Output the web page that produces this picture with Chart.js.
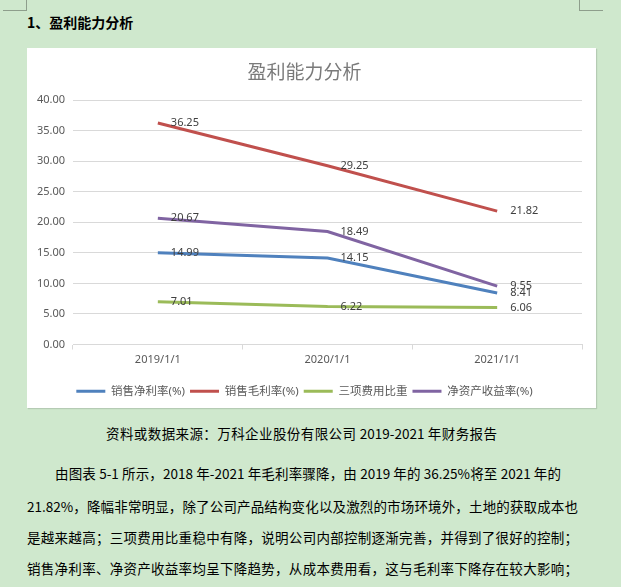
<!DOCTYPE html>
<html><head><meta charset="utf-8">
<script src="https://cdn.jsdelivr.net/npm/chart.js@4"></script>
<style>
html,body{margin:0;padding:0;}
body{width:621px;height:587px;background:#cfe8cd;position:relative;overflow:hidden;font-family:"Noto Sans CJK SC","Noto Sans",sans-serif;color:#000;}
.mark{position:absolute;background:#8e9e8c;}
#box{position:absolute;left:27px;top:48px;width:569px;height:360px;background:#fff;box-shadow:1px 1px 1px rgba(0,0,0,0.12);}
#heading{position:absolute;left:27px;top:12px;font-size:14px;font-weight:bold;line-height:20px;white-space:nowrap;}
.txt{position:absolute;font-size:13.5px;line-height:20px;white-space:nowrap;text-align:justify;text-align-last:justify;}
</style></head>
<body>
<div class="mark" style="left:26px;top:0;width:1px;height:11px;"></div>
<div class="mark" style="left:3px;top:10px;width:24px;height:1px;"></div>
<div class="mark" style="left:579px;top:0;width:1px;height:11px;"></div>
<div class="mark" style="left:579px;top:10px;width:24px;height:1px;"></div>
<div id="heading">1、盈利能力分析</div>
<div id="box"><canvas id="c" width="569" height="360"></canvas></div>
<div class="txt" style="left:106px;top:423px;width:391px;">资料或数据来源：万科企业股份有限公司 2019-2021 年财务报告</div>
<div class="txt" style="left:55px;top:463px;width:506px;">由图表 5-1 所示，2018 年-2021 年毛利率骤降，由 2019 年的 36.25%将至 2021 年的</div>
<div class="txt" style="left:27px;top:496px;width:551px;">21.82%，降幅非常明显，除了公司产品结构变化以及激烈的市场环境外，土地的获取成本也</div>
<div class="txt" style="left:27px;top:527px;width:551px;">是越来越高；三项费用比重稳中有降，说明公司内部控制逐渐完善，并得到了很好的控制；</div>
<div class="txt" style="left:27px;top:558px;width:551px;">销售净利率、净资产收益率均呈下降趋势，从成本费用看，这与毛利率下降存在较大影响；</div>
<script>
const categories = ['2019/1/1', '2020/1/1', '2021/1/1'];
const netMargin = [14.99, 14.15, 8.41];
const grossMargin = [36.25, 29.25, 21.82];
const expenseRatio = [7.01, 6.22, 6.06];
const roe = [20.67, 18.49, 9.55];
const seriesNames = ['销售净利率(%)', '销售毛利率(%)', '三项费用比重', '净资产收益率(%)'];
const seriesColors = ['#4f81bd', '#c0504d', '#9bbb59', '#8064a2'];
const yMin = 0, yMax = 40, yStep = 5;
const chartTitle = '盈利能力分析';

Chart.defaults.font.family = '"Noto Sans", "Noto Sans CJK SC", sans-serif';

const seriesValues = [netMargin, grossMargin, expenseRatio, roe];
const datasets = seriesValues.map((vals, i) => ({
  label: seriesNames[i],
  data: vals,
  borderColor: seriesColors[i],
  backgroundColor: seriesColors[i],
  borderWidth: 3,
  pointRadius: 0,
  tension: 0,
  fill: false
}));

const valueLabels = {
  id: 'valueLabels',
  afterDatasetsDraw(chart) {
    const ctx = chart.ctx;
    ctx.save();
    ctx.font = '11px "Noto Sans", sans-serif';
    ctx.fillStyle = '#404040';
    ctx.textBaseline = 'middle';
    ctx.textAlign = 'left';
    chart.data.datasets.forEach((ds, i) => {
      chart.getDatasetMeta(i).data.forEach((pt, j) => {
        ctx.fillText(ds.data[j].toFixed(2), pt.x + 13, pt.y);
      });
    });
    ctx.restore();
  }
};

new Chart(document.getElementById('c'), {
  type: 'line',
  data: { labels: categories, datasets },
  options: {
    responsive: false,
    animation: false,
    layout: { padding: { left: 0, right: 14, top: 0, bottom: 1 } },
    plugins: {
      title: {
        display: true, text: chartTitle, color: '#7a7a7a',
        font: { size: 19, weight: 'normal', family: '"Noto Sans CJK SC", sans-serif' },
        padding: { top: 12.6, bottom: 16.6 }
      },
      legend: {
        position: 'bottom',
        labels: {
          usePointStyle: true, pointStyle: 'line', pointStyleWidth: 29,
          color: '#595959', font: { size: 11.5 }, padding: 5
        }
      },
      tooltip: { enabled: false }
    },
    scales: {
      x: {
        offset: true,
        grid: { display: true, drawOnChartArea: false, drawTicks: true, tickLength: 5, offset: true, color: '#d9d9d9' },
        border: { color: '#d9d9d9' },
        ticks: { padding: 4, color: '#595959', font: { size: 11 } },
        afterFit: s => { s.height = 36; }
      },
      y: {
        min: yMin, max: yMax,
        ticks: { stepSize: yStep, padding: 8, color: '#595959', font: { size: 11 }, callback: v => Number(v).toFixed(2) },
        grid: { color: '#d9d9d9', drawTicks: false },
        border: { display: false },
        afterFit: s => { s.width = 46; }
      }
    }
  },
  plugins: [valueLabels]
});
</script>
</body></html>
